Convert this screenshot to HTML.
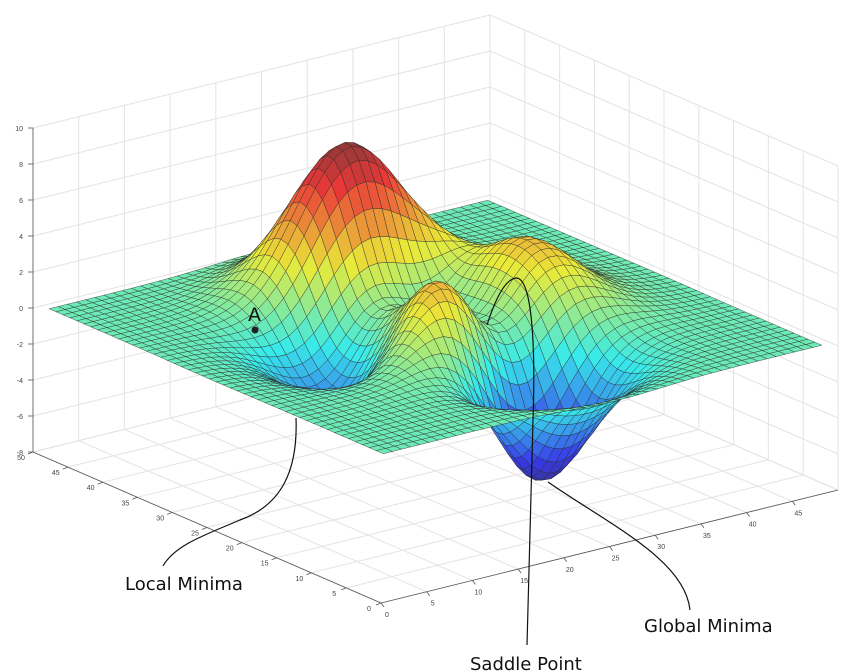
<!DOCTYPE html>
<html><head><meta charset="utf-8"><style>
html,body{margin:0;padding:0;background:#fff;}
svg{display:block;font-family:"Liberation Sans",sans-serif;}
.lbl{font-family:"DejaVu Sans","Liberation Sans",sans-serif;}
</style></head><body>
<svg id="chartSvg" width="848" height="672" viewBox="0 0 848 672" xmlns="http://www.w3.org/2000/svg">
<g id="gWalls"></g>
<g id="gTicks"></g>
<g id="gSurf"></g>
<g id="gAnnot">
<circle cx="255" cy="330" r="3.5" fill="#222"/>
<text class="lbl" x="248" y="321" font-size="19" fill="#111">A</text>
<path d="M296,418 C298,470 282,505 240,520 C205,535 175,545 163,566" fill="none" stroke="#111" stroke-width="1.2"/>
<path d="M527,645 L533,420 C536,330 530,280 517,278 C505,278 495,300 487,325" fill="none" stroke="#111" stroke-width="1.2"/>
<path d="M548,482 C610,525 685,560 690,610" fill="none" stroke="#111" stroke-width="1.2"/>
<text class="lbl" x="125" y="590" font-size="18" fill="#111">Local Minima</text>
<text class="lbl" x="470" y="670" font-size="18" fill="#111">Saddle Point</text>
<text class="lbl" x="644" y="632" font-size="18" fill="#111">Global Minima</text>
</g>
</svg>
<script>
var xTicks=[0,5,10,15,20,25,30,35,40,45];
var yTicks=[0,5,10,15,20,25,30,35,40,45,50];
var zTicks=[-8,-6,-4,-2,0,2,4,6,8,10];
var gridN=49;
(function(){
var SVGNS="http://www.w3.org/2000/svg";
function proj(X,Y,H){return [381+9.14*X-6.96*Y, 603-2.26*X-3.02*Y-18*(H+8)];}
function makeEl(tag,attrs,par){var e=document.createElementNS(SVGNS,tag);for(var k in attrs){e.setAttribute(k,attrs[k]);}par.appendChild(e);return e;}
function peaksFn(x,y){
 return 3*Math.pow(1-x,2)*Math.exp(-x*x-Math.pow(y+1,2))
  -10*(x/5-Math.pow(x,3)-Math.pow(y,5))*Math.exp(-x*x-y*y)
  -(1/3)*Math.exp(-Math.pow(x+1,2)-y*y);
}
var ZZ=[];
for(var i=0;i<gridN;i++){var row=[];for(var j=0;j<gridN;j++){var xx=-3+6*j/(gridN-1),yy=-3+6*i/(gridN-1);row.push(peaksFn(xx,yy));}ZZ.push(row);}
var zmin=Infinity,zmax=-Infinity;
for(var i2=0;i2<gridN;i2++)for(var j2=0;j2<gridN;j2++){var v0=ZZ[i2][j2];if(v0<zmin)zmin=v0;if(v0>zmax)zmax=v0;}
function jetColor(t){t=Math.max(0,Math.min(1,t));function f(c){var raw=255*Math.max(0,Math.min(1,1.5-Math.abs(4*t-c)));return Math.round((raw*0.75+60)*0.93);}return "rgb("+f(3)+","+f(2)+","+f(1)+")";}
var wallsG=document.getElementById('gWalls');
var gc='#e3e3e3';
function drawLine(a,b,par,name,col,w){
 var l=makeEl('line',{x1:a[0].toFixed(1),y1:a[1].toFixed(1),x2:b[0].toFixed(1),y2:b[1].toFixed(1),stroke:col,'stroke-width':w},par);
 
 
 return l;
}
for(var v=0;v<=50;v+=5){
 drawLine(proj(v,0,-8),proj(v,50,-8),wallsG,'floor-grid-x',gc,1);
 drawLine(proj(0,v,-8),proj(50,v,-8),wallsG,'floor-grid-y',gc,1);
 drawLine(proj(v,50,-8),proj(v,50,10),wallsG,'back-wall-grid-x',gc,1);
 drawLine(proj(50,v,-8),proj(50,v,10),wallsG,'side-wall-grid-y',gc,1);
}
for(var z=-8;z<=10;z+=2){
 drawLine(proj(0,50,z),proj(50,50,z),wallsG,'back-wall-grid-z',gc,1);
 drawLine(proj(50,0,z),proj(50,50,z),wallsG,'side-wall-grid-z',gc,1);
}
var tickG=document.getElementById('gTicks');
drawLine(proj(0,0,-8),proj(50,0,-8),tickG,'x-axis-line','#555',0.8);
drawLine(proj(0,0,-8),proj(0,50,-8),tickG,'y-axis-line','#555',0.8);
drawLine(proj(0,50,-8),proj(0,50,10),tickG,'z-axis-line','#555',0.8);
function drawText(p,s,name,anchor){
 var t=makeEl('text',{x:p[0].toFixed(1),y:p[1].toFixed(1),'font-size':'7',fill:'#444','text-anchor':anchor},tickG);
 t.textContent=s;
 
 
}
xTicks.forEach(function(v){var p=proj(v,0,-8);drawLine(p,[p[0]+3,p[1]+4],tickG,'x-tick','#555',0.8);drawText([p[0]+6,p[1]+14],String(v),'x-tick-label','middle');});
yTicks.forEach(function(v){var p=proj(0,v,-8);drawLine(p,[p[0]-5,p[1]+2],tickG,'y-tick','#555',0.8);drawText([p[0]-12,p[1]+8],String(v),'y-tick-label','middle');});
zTicks.forEach(function(v){var p=proj(0,50,v);drawLine(p,[p[0]-5,p[1]],tickG,'z-tick','#555',0.8);drawText([p[0]-10,p[1]+3],String(v),'z-tick-label','end');});
var faceList=[];
for(var a=0;a<gridN-1;a++)for(var b=0;b<gridN-1;b++){
 var X=b+1,Y=a+1;
 var cs=[proj(X,Y,ZZ[a][b]),proj(X+1,Y,ZZ[a][b+1]),proj(X+1,Y+1,ZZ[a+1][b+1]),proj(X,Y+1,ZZ[a+1][b])];
 var zm=(ZZ[a][b]+ZZ[a][b+1]+ZZ[a+1][b+1]+ZZ[a+1][b])/4;
 faceList.push({c:cs,zm:zm,d:2.26*(X+0.5)+3.02*(Y+0.5)});
}
faceList.sort(function(p,q){return q.d-p.d;});
var surfG=document.getElementById('gSurf');
faceList.forEach(function(f){
 var pts=f.c.map(function(q){return q[0].toFixed(1)+','+q[1].toFixed(1);}).join(' ');
 var pg=makeEl('polygon',{points:pts,fill:jetColor((f.zm-zmin)/(zmax-zmin)),stroke:'#2a2a2a','stroke-opacity':'0.8','stroke-width':'0.5','stroke-linejoin':'round'},surfG);
 
 
});
})();
</script>
</body></html>
